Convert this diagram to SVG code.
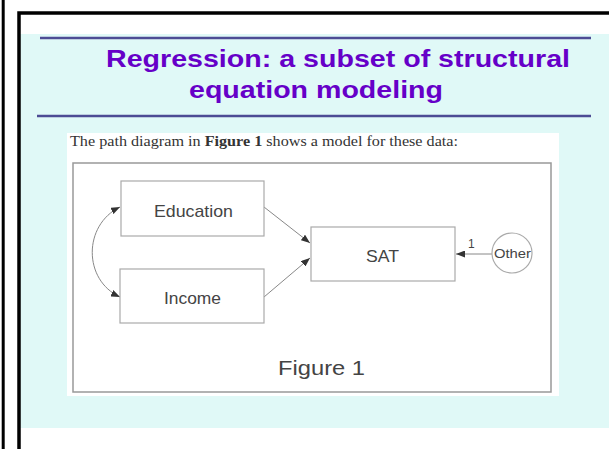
<svg xmlns="http://www.w3.org/2000/svg" width="609" height="449" viewBox="0 0 609 449">
<defs>
<marker id="ah" viewBox="0 0 9 7" refX="9" refY="3.5" markerWidth="9" markerHeight="7" markerUnits="userSpaceOnUse" orient="auto-start-reverse">
<path d="M0,0 L9,3.5 L0,7 z" fill="#333"/>
</marker>
</defs>
<style>
.title{font-family:"Liberation Sans",Arial,sans-serif;font-weight:bold;font-size:24px;fill:#6600c8}
.box{fill:#fff;stroke:#aaa;stroke-width:1.2}
.lbl{font-family:"Liberation Sans",Arial,sans-serif;font-size:17px;fill:#444;text-anchor:start}
.conn{fill:none;stroke:#888;stroke-width:1}
.rule{stroke:#4c4c94;stroke-width:2.5}
</style>
<rect x="0" y="0" width="609" height="449" fill="#fff"/>
<rect x="20" y="34" width="589" height="394" fill="#e0f9f7"/>
<line x1="3.2" y1="0" x2="3.2" y2="449" stroke="#000" stroke-width="3"/>
<polyline points="19,449 19,13 609,13" fill="none" stroke="#000" stroke-width="3.5"/>
<line class="rule" x1="40" y1="38" x2="591" y2="38"/>
<line class="rule" x1="37" y1="116" x2="591" y2="116"/>
<text class="title" x="106" y="67" textLength="464" lengthAdjust="spacingAndGlyphs">Regression: a subset of structural</text>
<text class="title" x="189" y="98" textLength="254" lengthAdjust="spacingAndGlyphs">equation modeling</text>
<rect x="67" y="133" width="492" height="263" fill="#fff"/>
<text x="70" y="146" font-family="'Liberation Serif','Times New Roman',serif" font-size="14" fill="#333" textLength="388" lengthAdjust="spacingAndGlyphs">The path diagram in <tspan font-weight="bold">Figure 1</tspan> shows a model for these data:</text>
<rect x="73" y="163" width="478" height="229" fill="none" stroke="#999" stroke-width="1.5"/>
<text x="278" y="375" font-family="'Liberation Sans',Arial,sans-serif" font-size="21" fill="#444" textLength="87" lengthAdjust="spacingAndGlyphs">Figure 1</text>
<g id="connectors">
<path class="conn" d="M264,207 L310,243" marker-end="url(#ah)"/>
<path class="conn" d="M264,297 L310,258" marker-end="url(#ah)"/>
<path class="conn" d="M120,207 C83,225 83,280 120,297" marker-start="url(#ah)" marker-end="url(#ah)"/>
<path class="conn" d="M492,254 L456,254" marker-end="url(#ah)"/>
<text x="468" y="248" font-family="'Liberation Sans',Arial,sans-serif" font-size="12" fill="#444">1</text>
</g>
<g id="education">
<rect class="box" x="121" y="181" width="143" height="55"/>
<text class="lbl" x="154" y="217" textLength="79" lengthAdjust="spacingAndGlyphs">Education</text>
</g>
<g id="income">
<rect class="box" x="120" y="269" width="144" height="54"/>
<text class="lbl" x="164" y="304" textLength="57" lengthAdjust="spacingAndGlyphs">Income</text>
</g>
<g id="sat">
<rect class="box" x="311" y="227" width="144" height="54"/>
<text class="lbl" x="366" y="262" textLength="33" lengthAdjust="spacingAndGlyphs">SAT</text>
</g>
<g id="other">
<circle cx="512" cy="253" r="20" fill="#fff" stroke="#aaa" stroke-width="1.2"/>
<text x="494" y="258" font-family="'Liberation Sans',Arial,sans-serif" font-size="13" fill="#444" textLength="37" lengthAdjust="spacingAndGlyphs">Other</text>
</g>
</svg>
